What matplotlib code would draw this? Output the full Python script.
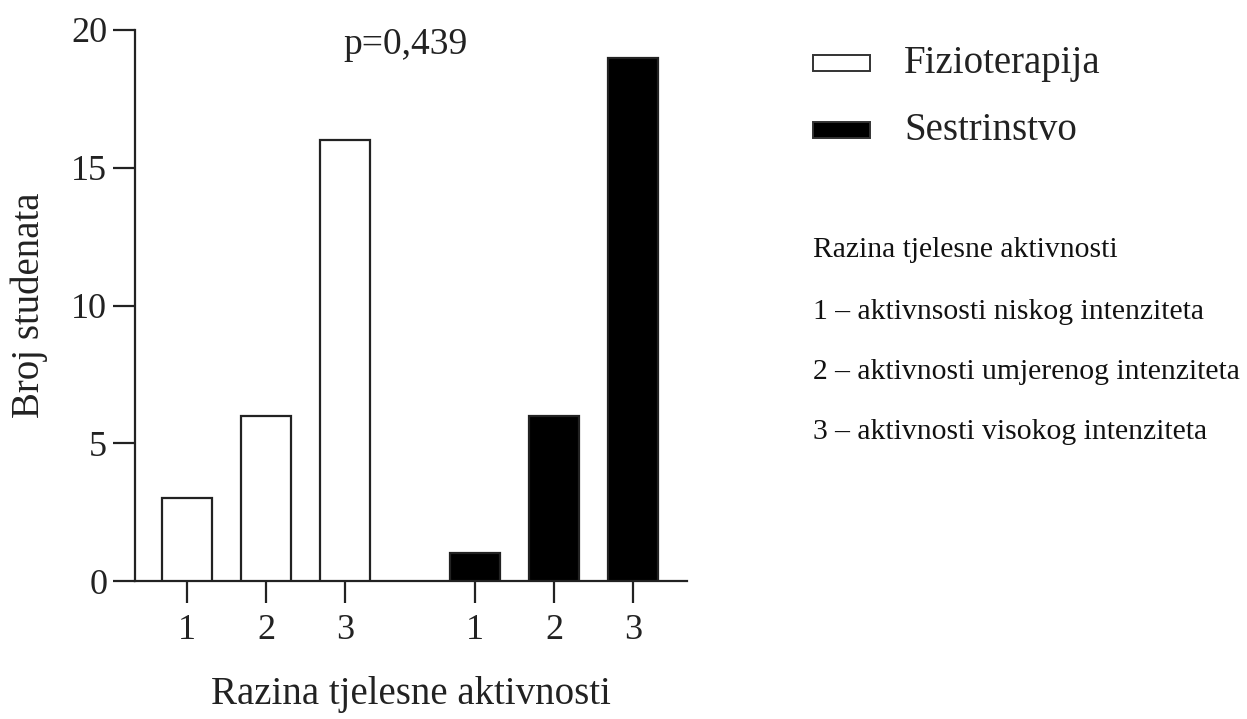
import matplotlib
matplotlib.use("Agg")
import matplotlib.pyplot as plt
from matplotlib.patches import Rectangle

groups = ["Fizioterapija", "Sestrinstvo"]
levels = ["1", "2", "3"]
fizioterapija = [3, 6, 16]
sestrinstvo = [1, 6, 19]
p_text = "p=0,439"
xlabel = "Razina tjelesne aktivnosti"
ylabel = "Broj studenata"
notes = ["Razina tjelesne aktivnosti",
         "1 \u2013 aktivnsosti niskog intenziteta",
         "2 \u2013 aktivnosti umjerenog intenziteta",
         "3 \u2013 aktivnosti visokog intenziteta"]

plt.rcParams['font.family'] = ['Liberation Serif', 'DejaVu Serif']

W, H = 1247, 719
fig = plt.figure(figsize=(W/100, H/100), dpi=100)
ax = fig.add_axes([135/W, 1-581/H, (687-135)/W, (581-30)/H])

gap = 1.65
pos_f = [0, 1, 2]
pos_s = [gap + 2 + i for i in range(3)]
bw = 0.63
lw = 1.6
ink = '#222222'
ax.bar(pos_f, fizioterapija, width=bw, facecolor='white', edgecolor=ink, linewidth=lw, zorder=3)
ax.bar(pos_s, sestrinstvo, width=bw, facecolor='black', edgecolor=ink, linewidth=lw, zorder=3)

ax.set_xlim(-0.66, pos_s[-1] + 0.68)
ax.set_ylim(0, 20)
ax.set_yticks([0, 5, 10, 15, 20])
ax.set_xticks(pos_f + pos_s)
ax.set_xticklabels(levels + levels)
for s in ['top', 'right']:
    ax.spines[s].set_visible(False)
for s in ['left', 'bottom']:
    ax.spines[s].set_linewidth(lw)
    ax.spines[s].set_color(ink)
ax.tick_params(axis='both', length=16, width=lw, color=ink, labelsize=26, labelcolor=ink)
ax.tick_params(axis='x', pad=8)
ax.tick_params(axis='y', pad=4)

ax.set_xlabel(xlabel, fontsize=28, color=ink)
ax.xaxis.set_label_coords(0.5, -0.172)
ax.set_ylabel(ylabel, fontsize=28, color=ink)
ax.yaxis.set_label_coords(-0.158, 0.5)

ax.text(0.49, 0.973, p_text, transform=ax.transAxes, ha='center', va='center', fontsize=27, color=ink)

# legend
legend_items = [(groups[0], 'white'), (groups[1], 'black')]
ys = [63, 130]
for (lab, fc), y in zip(legend_items, ys):
    fig.patches.append(Rectangle((813/W, 1-(y+8)/H), 57/W, 16/H, transform=fig.transFigure,
                                 facecolor=fc, edgecolor='#333333', linewidth=1.4))
    fig.text(904/W, 1-y/H, lab, ha='left', va='center', fontsize=28, color=ink)

note_y = [250, 312, 372, 432]
for t, y in zip(notes, note_y):
    fig.text(813/W, 1-y/H, t, ha='left', va='center', fontsize=21.3, color='#111111')

fig.savefig("out.png", dpi=100)
